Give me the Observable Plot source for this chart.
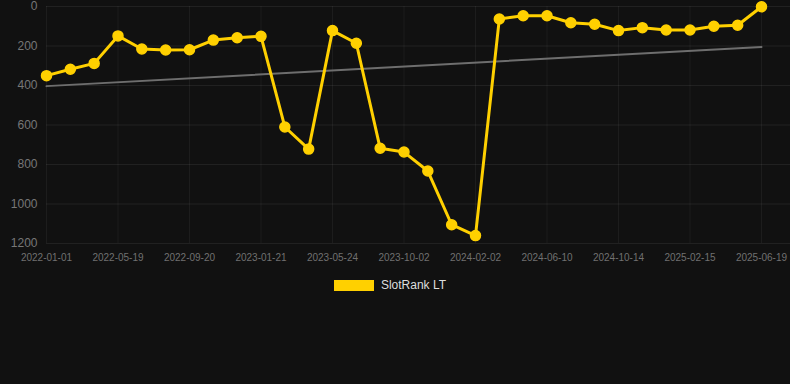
<!DOCTYPE html>
<html>
<head>
<meta charset="utf-8">
<script src="https://cdn.jsdelivr.net/npm/d3@7"></script>
<script src="https://cdn.jsdelivr.net/npm/@observablehq/plot@0.6"></script>
<style>
  html, body { margin: 0; padding: 0; background: #111111; }
  body { width: 790px; height: 384px; overflow: hidden; font-family: "Liberation Sans", Arial, Helvetica, sans-serif; }
  #legend { display: flex; justify-content: center; align-items: center; margin-top: 8px; margin-left: -10px; font-size: 12px; color: #dddddd; }
  #legend .box { width: 40px; height: 11px; background: #FFD000; margin-right: 7px; }
</style>
</head>
<body>
<div id="chart"></div>
<div id="legend"><span class="box"></span><span>SlotRank LT</span></div>
<script>
// Tick labels shown on the x axis (every third observation)
const xTickLabels = ["2022-01-01", "2022-05-19", "2022-09-20", "2023-01-21", "2023-05-24", "2023-10-02", "2024-02-02", "2024-06-10", "2024-10-14", "2025-02-15", "2025-06-19"];
// SlotRank LT values, one per observation (lower = better rank)
const rankValues = [350, 318, 288, 149, 215, 220, 219, 170, 158, 151, 610, 722, 122, 186, 718, 737, 833, 1105, 1160, 63, 47, 47, 82, 90, 122, 107, 119, 119, 100, 95, 1];
const yTicks = [0, 200, 400, 600, 800, 1000, 1200];
const seriesName = "SlotRank LT";

const data = rankValues.map((v, i) => ({ i, v }));
const xTicks = xTickLabels.map((_, k) => k * 3);

const chart = Plot.plot({
  width: 790,
  height: 270,
  marginLeft: 46,
  marginRight: 29,
  marginTop: 6,
  marginBottom: 27,
  style: { background: "#111111", color: "#777777", fontFamily: "'Liberation Sans', Arial, Helvetica, sans-serif" },
  x: { domain: [0, rankValues.length - 1], label: null },
  y: { domain: [0, 1200], reverse: true, label: null },
  marks: [
    Plot.gridY(yTicks, { stroke: "#ffffff", strokeOpacity: 0.07, strokeWidth: 1, insetRight: -29 }),
    Plot.gridX(xTicks, { stroke: "#ffffff", strokeOpacity: 0.05, strokeWidth: 1 }),
    Plot.axisY(yTicks, { tickSize: 0, tickPadding: 9, fontSize: 12, fill: "#777777", label: null, tickFormat: d => String(d) }),
    Plot.axisX(xTicks, { tickSize: 0, tickPadding: 10, fontSize: 10, fill: "#707070", label: null, tickFormat: d => xTickLabels[d / 3] }),
    Plot.linearRegressionY(data, { x: "i", y: "v", stroke: "#6e6e6e", strokeWidth: 2, ci: 0 }),
    Plot.line(data, { x: "i", y: "v", stroke: "#FFD000", strokeWidth: 3, strokeLinejoin: "round" }),
    Plot.dot(data, { x: "i", y: "v", r: 5, fill: "#FFD000", stroke: "#FFD000", title: d => `${seriesName}: ${d.v}` })
  ]
});
document.getElementById("chart").appendChild(chart);
</script>
</body>
</html>
